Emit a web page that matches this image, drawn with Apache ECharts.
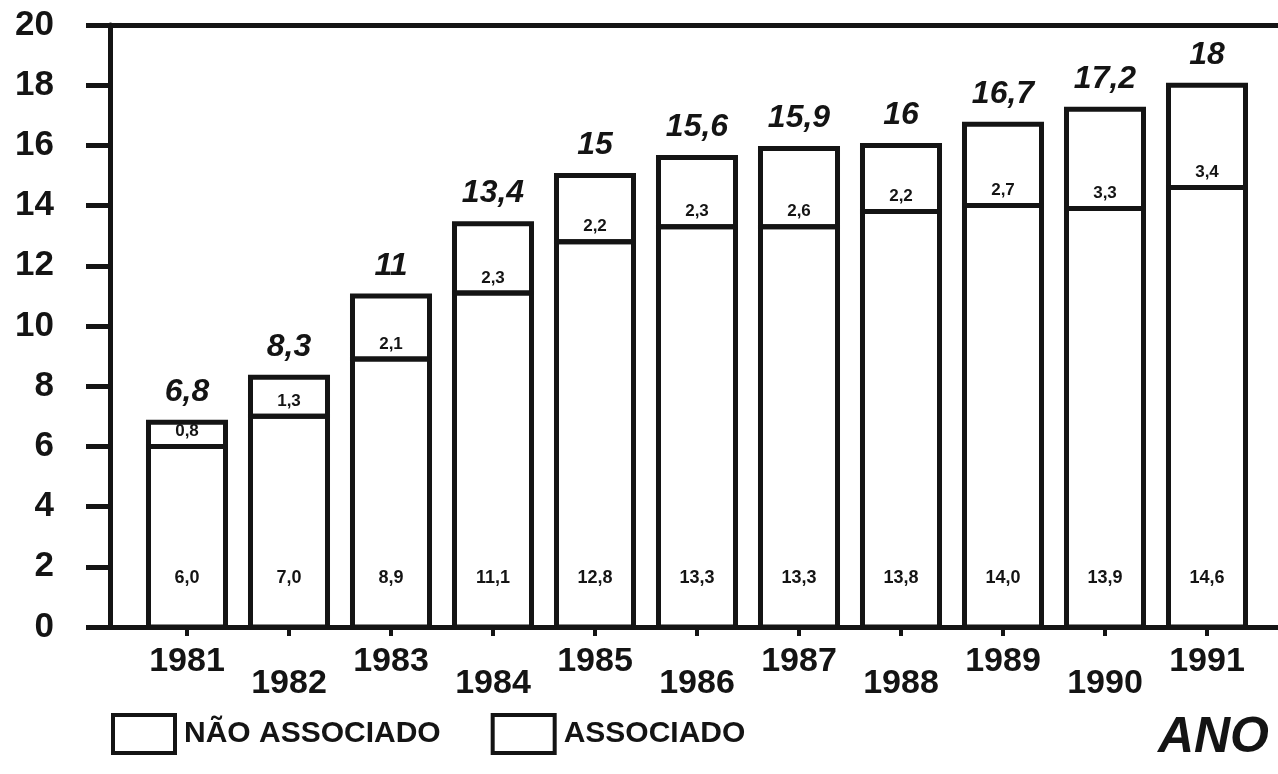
<!DOCTYPE html>
<html>
<head>
<meta charset="utf-8">
<title>Associados por ano</title>
<script src="https://cdn.jsdelivr.net/npm/echarts@6/dist/echarts.min.js"></script>
<style>
  html, body { margin: 0; padding: 0; background: #fff; }
  #chart { width: 1278px; height: 774px; }
</style>
</head>
<body>
<div id="chart"></div>
<script>
// dados
const years = ['1981', '1982', '1983', '1984', '1985', '1986', '1987', '1988', '1989', '1990', '1991']
const naoAssociado = [6.0, 7.0, 8.9, 11.1, 12.8, 13.3, 13.3, 13.8, 14.0, 13.9, 14.6]
const associado = [0.8, 1.3, 2.1, 2.3, 2.2, 2.3, 2.6, 2.2, 2.7, 3.3, 3.4]
const totals = [6.8, 8.3, 11, 13.4, 15, 15.6, 15.9, 16, 16.7, 17.2, 18]

const INK = '#141414'
const FONT = 'Liberation Sans, Arial, sans-serif'
const BORDER = 5

const comma = (v) => String(v).replace('.', ',')
const oneDec = (v) => v.toFixed(1).replace('.', ',')

const chart = echarts.init(document.getElementById('chart'))

// [categoria, início, fim] de cada segmento empilhado
const lowerData = naoAssociado.map((v, i) => [i, 0, v])
const upperData = associado.map((v, i) => [i, naoAssociado[i], naoAssociado[i] + v])

// barra com borda centrada (as bordas de segmentos vizinhos se sobrepõem)
const makeRender = (labelDistance, labelSize, withTotal) => (params, api) => {
  const i = api.value(0)
  const p0 = api.coord([i, api.value(1)])
  const p1 = api.coord([i, api.value(2)])
  const w = api.size([1, 0])[0] * 0.755
  const rect = {
    type: 'rect',
    shape: { x: p0[0] - w / 2, y: p1[1], width: w, height: p0[1] - p1[1] },
    style: { fill: 'none', stroke: INK, lineWidth: BORDER },
    textContent: {
      style: {
        text: oneDec(api.value(2) - api.value(1)),
        fill: INK,
        fontFamily: FONT,
        fontSize: labelSize,
        fontWeight: 'bold',
      },
    },
    textConfig: { position: 'insideBottom', distance: labelDistance },
  }
  if (!withTotal) return rect
  return {
    type: 'group',
    children: [
      rect,
      {
        type: 'text',
        x: p1[0],
        y: p1[1] - 14,
        style: {
          text: comma(totals[params.dataIndex]),
          fill: INK,
          fontFamily: FONT,
          fontSize: 32,
          fontWeight: 'bold',
          fontStyle: 'italic',
          align: 'center',
          verticalAlign: 'bottom',
        },
      },
    ],
  }
}

const plotTop = 25
const plotBottom = 147

chart.setOption({
  backgroundColor: '#fff',
  animation: false,
  title: {
    text: 'ANO',
    right: 4,
    bottom: 6,
    textStyle: {
      color: INK,
      fontFamily: FONT,
      fontSize: 50,
      fontWeight: 'bold',
      fontStyle: 'italic',
    },
  },
  legend: {
    left: 106,
    bottom: 14,
    itemWidth: 62,
    itemHeight: 38,
    itemGap: 50,
    icon: 'rect',
    itemStyle: {
      color: '#fff',
      borderColor: INK,
      borderWidth: 4,
    },
    textStyle: {
      color: INK,
      fontFamily: FONT,
      fontSize: 30,
      fontWeight: 'bold',
      padding: [0, 0, 0, 4],
    },
    data: ['NÃO ASSOCIADO', 'ASSOCIADO'],
  },
  // grade 0: moldura e eixo y; grade 1: barras
  grid: [
    { left: 110, right: 0, top: plotTop, bottom: plotBottom },
    { left: 136, right: 20, top: plotTop, bottom: plotBottom },
  ],
  xAxis: [
    {
      gridIndex: 0,
      type: 'value',
      min: 0,
      max: 1,
      position: 'bottom',
      splitLine: { show: false },
      axisLine: { show: true, lineStyle: { color: INK, width: 5 } },
      axisTick: { show: false },
      axisLabel: { show: false },
    },
    {
      gridIndex: 0,
      type: 'value',
      min: 0,
      max: 1,
      position: 'top',
      splitLine: { show: false },
      axisLine: { show: true, lineStyle: { color: INK, width: 5 } },
      axisTick: { show: false },
      axisLabel: { show: false },
    },
    {
      gridIndex: 1,
      type: 'category',
      data: years,
      position: 'bottom',
      axisLine: { show: false },
      axisTick: {
        show: true,
        alignWithLabel: true,
        length: 9,
        lineStyle: { color: INK, width: 4 },
      },
      axisLabel: {
        margin: 18,
        interval: 0,
        formatter: (v, i) => (i % 2 === 1 ? '{b|' + v + '}' : '{a|' + v + '}'),
        rich: {
          a: {
            color: INK,
            fontFamily: FONT,
            fontSize: 34,
            fontWeight: 'bold',
          },
          b: {
            color: INK,
            fontFamily: FONT,
            fontSize: 34,
            fontWeight: 'bold',
            padding: [22, 0, 0, 0],
          },
        },
      },
    },
  ],
  yAxis: [
    {
      gridIndex: 0,
      type: 'value',
      min: 0,
      max: 20,
      interval: 2,
      splitLine: { show: false },
      axisLine: { show: true, lineStyle: { color: INK, width: 5 } },
      axisTick: {
        show: true,
        length: 24,
        lineStyle: { color: INK, width: 5 },
      },
      axisLabel: {
        margin: 56,
        color: INK,
        fontFamily: FONT,
        fontSize: 35,
        fontWeight: 'bold',
      },
    },
    {
      gridIndex: 1,
      type: 'value',
      min: 0,
      max: 20,
      show: false,
    },
  ],
  series: [
    {
      name: 'NÃO ASSOCIADO',
      type: 'custom',
      xAxisIndex: 2,
      yAxisIndex: 1,
      encode: { x: 0, y: [1, 2] },
      data: lowerData,
      itemStyle: { color: '#fff', borderColor: INK, borderWidth: 4 },
      renderItem: makeRender(42, 18, false),
    },
    {
      name: 'ASSOCIADO',
      type: 'custom',
      xAxisIndex: 2,
      yAxisIndex: 1,
      encode: { x: 0, y: [1, 2] },
      data: upperData,
      itemStyle: { color: '#fff', borderColor: INK, borderWidth: 4 },
      renderItem: makeRender(9, 17, true),
    },
  ],
})
</script>
</body>
</html>
